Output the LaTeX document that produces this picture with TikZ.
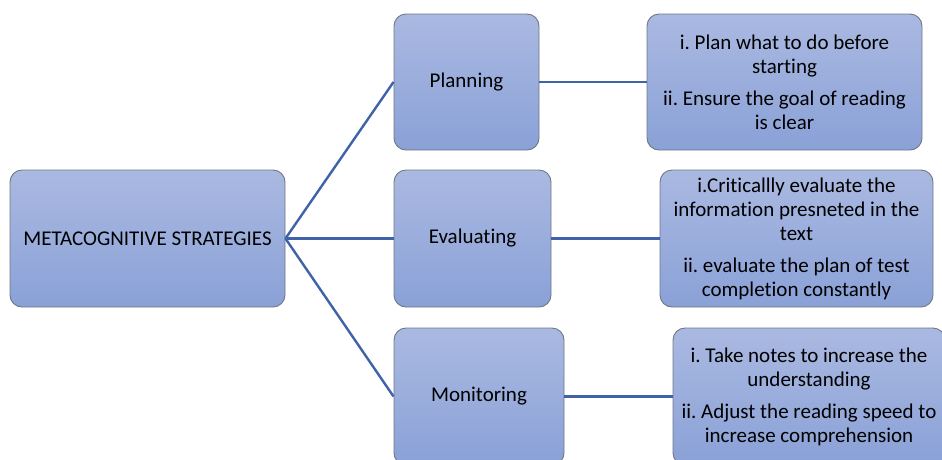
\documentclass[tikz,border=0pt]{standalone}
\usepackage{fontspec}
\setmainfont{Carlito}[Ligatures=NoCommon]
\definecolor{boxtop}{HTML}{AAB9E1}
\definecolor{boxbot}{HTML}{8AA1D7}
\definecolor{boxline}{HTML}{6E7784}
\definecolor{conn}{HTML}{3F62A8}
\frenchspacing
\begin{document}
\begin{tikzpicture}[x=1pt,y=-1pt,
  box/.style={draw=boxline, line width=0.9pt, rounded corners=12pt,
    top color=boxtop, bottom color=boxbot, inner sep=0pt, align=center,
    font=\fontsize{21pt}{24pt}\selectfont\frenchspacing, text=black},
  link/.style={draw=conn, line width=2.4pt}]
\useasboundingbox (0,0) rectangle (942,459);
\node[box, minimum width=275pt, minimum height=137pt] (root) at (147.5,238.5) {METACOGNITIVE STRATEGIES};
\node[box, minimum width=145pt, minimum height=136pt] (plan) at (466.5,82) {Planning};
\node[box, minimum width=157pt, minimum height=137pt] (eval) at (472.5,238.5) {Evaluating};
\node[box, minimum width=170pt, minimum height=137pt] (mon) at (479,396.5) {Monitoring};
\node[box, minimum width=275pt, minimum height=136pt] (pd) at (784.5,82) {i. Plan what to do before\\ starting\\[8pt] ii. Ensure the goal of reading\\ is clear};
\node[box, minimum width=273pt, minimum height=137pt] (ed) at (796.5,238.5) {i.Criticallly evaluate the\\ information presneted in the\\ text\\[8pt] ii. evaluate the plan of test\\ completion constantly};
\node[box, minimum width=272pt, minimum height=137pt] (md) at (809,396.5) {i. Take notes to increase the\\ understanding\\[8pt] ii. Adjust the reading speed to\\ increase comprehension};
\draw[link] (root.east) -- (plan.west);
\draw[link] (root.east) -- (eval.west);
\draw[link] (root.east) -- (mon.west);
\draw[link] (plan.east) -- (pd.west);
\draw[link] (eval.east) -- (ed.west);
\draw[link] (mon.east) -- (md.west);
\end{tikzpicture}
\end{document}
